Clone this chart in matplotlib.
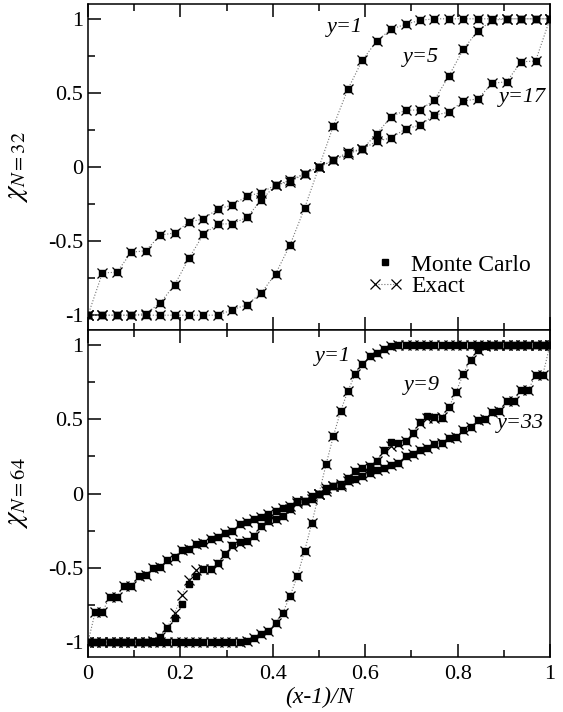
"""Staggered-profile comparison: Monte Carlo vs exact chi for N=32 and N=64."""

import matplotlib

matplotlib.use("Agg")
import matplotlib.pyplot as plt
from matplotlib.legend_handler import HandlerLine2D
from matplotlib.ticker import FuncFormatter, MultipleLocator

plt.rcParams["font.family"] = ["Liberation Serif", "DejaVu Serif"]
plt.rcParams["mathtext.fontset"] = "stix"
plt.rcParams["axes.unicode_minus"] = False

# ---- N = 32 panel (k = 0..32, x-axis is k/32) ----
N_TOP = 32
top_y1 = [-1, -1, -1, -1, -1, -1, -1, -1, -1, -1, -0.963, -0.93, -0.85, -0.72, -0.525, -0.278,
          0, 0.278, 0.525, 0.72, 0.85, 0.93, 0.963, 0.99, 1, 1, 1, 1, 1, 1, 1, 1, 1]
top_y5 = [-1, -1, -1, -1, -0.99, -0.918, -0.795, -0.615, -0.453, -0.385, -0.383, -0.34, -0.224,
          -0.121, -0.09, -0.045, 0, 0.045, 0.09, 0.121, 0.224, 0.34, 0.383, 0.385, 0.453, 0.615,
          0.795, 0.918, 0.99, 1, 1, 1, 1]
top_y17 = [-1, -0.715, -0.71, -0.575, -0.565, -0.46, -0.445, -0.37, -0.35, -0.283, -0.257, -0.197,
           -0.173, -0.121, -0.1, -0.045, 0, 0.045, 0.1, 0.121, 0.173, 0.197, 0.257, 0.283, 0.35,
           0.37, 0.445, 0.46, 0.565, 0.575, 0.71, 0.715, 1]
top_labels = ["y=1", "y=5", "y=17"]
top_label_pos = [(0.556, 0.94), (0.72, 0.74), (0.94, 0.47)]

# ---- N = 64 panel (k = 0..64, x-axis is k/64) ----
N_BOTTOM = 64
bot_y1 = [-1, -1, -1, -1, -1, -1, -1, -1, -1, -1, -1, -1, -1, -1, -1, -1, -1, -1, -1, -1, -1, -1,
          -0.99, -0.975, -0.946, -0.922, -0.868, -0.801, -0.689, -0.555, -0.387, -0.2, 0,
          0.2, 0.387, 0.555, 0.689, 0.801, 0.868, 0.922, 0.946, 0.975, 0.99,
          1, 1, 1, 1, 1, 1, 1, 1, 1, 1, 1, 1, 1, 1, 1, 1, 1, 1, 1, 1, 1, 1]
bot_y9 = [-1, -1, -1, -1, -1, -1, -1, -1, -1, -0.99, -0.965, -0.9, -0.805, -0.685, -0.58, -0.515,
          -0.51, -0.51, -0.475, -0.405, -0.35, -0.335, -0.32, -0.285, -0.22, -0.185, -0.17, -0.15,
          -0.105, -0.065, -0.05, -0.035, 0, 0.035, 0.05, 0.065, 0.105, 0.15, 0.17, 0.185, 0.22,
          0.285, 0.32, 0.335, 0.35, 0.405, 0.475, 0.51, 0.51, 0.515, 0.58, 0.685, 0.805, 0.9,
          0.965, 0.99, 1, 1, 1, 1, 1, 1, 1, 1, 1]
bot_y9_mc = [-1, -1, -1, -1, -1, -1, -1, -1, -1, -0.99, -0.964, -0.908, -0.839, -0.741, -0.611,
             -0.555, -0.506, -0.506, -0.47, -0.405, -0.349, -0.327, -0.32, -0.286, -0.219, -0.186,
             -0.174, -0.152, -0.103, -0.06, -0.052, -0.04, 0, 0.035, 0.05, 0.065, 0.105, 0.15, 0.17,
             0.185, 0.217, 0.295, 0.347, 0.34, 0.351, 0.407, 0.481, 0.52, 0.512, 0.508, 0.579,
             0.682, 0.803, 0.9, 0.966, 0.99, 1, 1, 1, 1, 1, 1, 1, 1, 1]
bot_y33 = [-1, -0.797, -0.797, -0.696, -0.696, -0.622, -0.622, -0.555, -0.55, -0.499, -0.495,
           -0.447, -0.425, -0.38, -0.371, -0.342, -0.335, -0.304, -0.293, -0.264, -0.25, -0.208,
           -0.192, -0.174, -0.159, -0.136, -0.119, -0.096, -0.085, -0.052, -0.05, -0.018, 0,
           0.018, 0.05, 0.052, 0.085, 0.096, 0.119, 0.136, 0.159, 0.174, 0.192, 0.208, 0.25,
           0.264, 0.293, 0.304, 0.335, 0.342, 0.371, 0.38, 0.425, 0.447, 0.495, 0.499, 0.55,
           0.555, 0.622, 0.622, 0.696, 0.696, 0.797, 0.797, 1]
bot_labels = ["y=1", "y=9", "y=33"]
bot_label_pos = [(0.53, 0.92), (0.723, 0.725), (0.935, 0.47)]


def style_axes(ax, show_xlabels):
    ax.set_xlim(0, 1)
    ax.set_ylim(-1.1, 1.1)
    ax.xaxis.set_major_locator(MultipleLocator(0.2))
    ax.xaxis.set_minor_locator(MultipleLocator(0.1))
    ax.yaxis.set_major_locator(MultipleLocator(0.5))
    ax.yaxis.set_minor_locator(MultipleLocator(0.25))
    fmt = FuncFormatter(lambda v, _: f"{v:g}")
    ax.xaxis.set_major_formatter(fmt)
    ax.yaxis.set_major_formatter(fmt)
    ax.tick_params(which="both", direction="in", top=True, right=False, width=1.1,
                   labelsize=16)
    ax.tick_params(which="major", length=9.5)
    ax.tick_params(which="minor", length=5)
    ax.tick_params(axis="x", pad=6, labelbottom=show_xlabels)
    ax.tick_params(axis="y", pad=3.5)
    for spine in ax.spines.values():
        spine.set_linewidth(1.1)


def draw_panel(ax, n, exact_series, mc_series, labels, label_pos):
    xs = [k / n for k in range(n + 1)]
    for exact, mc in zip(exact_series, mc_series):
        ax.plot(xs, exact, ls=":", color="0.45", lw=0.8, marker="x", ms=7.5,
                mec="black", mew=0.9)
        ax.plot(xs, mc, ls="none", marker="s", ms=4, color="black")
    for text, (tx, ty) in zip(labels, label_pos):
        ax.text(tx, ty, text, style="italic", fontsize=16, ha="center", va="center")


fig = plt.figure(figsize=(5.63, 7.12), dpi=100)
ax_top = fig.add_axes([0.1563, 0.5365, 0.8206, 0.4579])
ax_bot = fig.add_axes([0.1563, 0.0772, 0.8206, 0.4593])

draw_panel(ax_top, N_TOP, [top_y1, top_y5, top_y17], [top_y1, top_y5, top_y17],
           top_labels, top_label_pos)
draw_panel(ax_bot, N_BOTTOM, [bot_y1, bot_y9, bot_y33], [bot_y1, bot_y9_mc, bot_y33],
           bot_labels, bot_label_pos)

style_axes(ax_top, False)
style_axes(ax_bot, True)

ax_top.set_ylabel(r"$\chi_{N=32}$", fontsize=21)
ax_bot.set_ylabel(r"$\chi_{N=64}$", fontsize=21)
ax_top.yaxis.set_label_coords(-0.125, 0.5)
ax_bot.yaxis.set_label_coords(-0.125, 0.5)
ax_bot.set_xlabel("(x-1)/N", style="italic", fontsize=17)
ax_bot.xaxis.set_label_coords(0.5, -0.09)

mc_handle, = ax_top.plot([], [], ls="none", marker="s", ms=4, color="black")
exact_handle, = ax_top.plot([], [], ls=":", color="0.45", lw=0.8, marker="x", ms=7.5,
                            mec="black", mew=0.9)
ax_top.legend([mc_handle, exact_handle], ["Monte Carlo", "Exact"], loc="lower right",
              bbox_to_anchor=(0.995, 0.05), frameon=False, fontsize=17, numpoints=2,
              handlelength=1.5, handletextpad=0.35, labelspacing=0.0, borderpad=0.2,
              handler_map={mc_handle: HandlerLine2D(numpoints=1)})

fig.savefig("out.png", dpi=100)
